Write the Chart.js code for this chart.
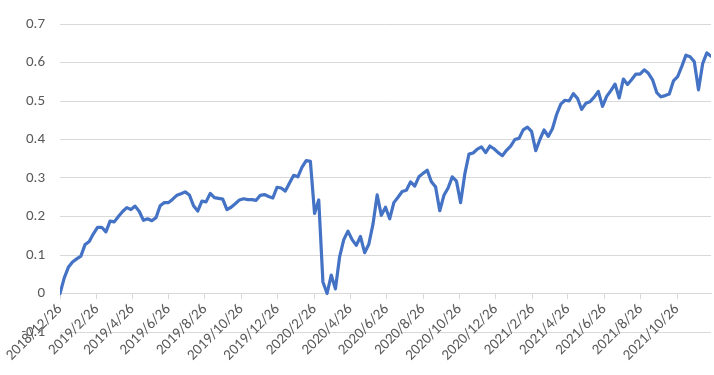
<!DOCTYPE html>
<html><head><meta charset="utf-8">
<script src="https://cdn.jsdelivr.net/npm/chart.js@4/dist/chart.umd.min.js"></script>
<style>html,body{margin:0;padding:0;background:#fff;} #wrap{width:714px;height:375px;}</style>
</head><body><div id="wrap"><canvas id="c" width="714" height="375"></canvas></div>
<script>
// weekly series starting on this date
const startDate = '2018/12/26';
const weekStepDays = 7;
const values = [
 0, 0.04, 0.068, 0.082, 0.09, 0.097, 0.127, 0.135, 0.155, 0.172,
 0.172, 0.16, 0.188, 0.186, 0.2, 0.213, 0.223, 0.218, 0.227, 0.213,
 0.19, 0.194, 0.189, 0.197, 0.228, 0.236, 0.236, 0.245, 0.255, 0.259,
 0.264, 0.256, 0.228, 0.214, 0.24, 0.238, 0.26, 0.249, 0.247, 0.245,
 0.218, 0.224, 0.233, 0.243, 0.246, 0.244, 0.244, 0.242, 0.255, 0.257,
 0.252, 0.248, 0.276, 0.274, 0.266, 0.287, 0.307, 0.303, 0.328, 0.345,
 0.343, 0.208, 0.243, 0.03, 0.0, 0.048, 0.012, 0.095, 0.14, 0.162,
 0.14, 0.125, 0.148, 0.106, 0.128, 0.18, 0.256, 0.203, 0.224, 0.194,
 0.236, 0.25, 0.265, 0.268, 0.29, 0.279, 0.303, 0.312, 0.32, 0.29,
 0.277, 0.215, 0.255, 0.274, 0.303, 0.292, 0.236, 0.31, 0.362, 0.365,
 0.375, 0.381, 0.366, 0.383, 0.376, 0.366, 0.358, 0.372, 0.383, 0.4,
 0.403, 0.425, 0.432, 0.421, 0.371, 0.4, 0.425, 0.408, 0.428, 0.465,
 0.492, 0.502, 0.5, 0.519, 0.507, 0.478, 0.494, 0.498, 0.51, 0.525,
 0.486, 0.512, 0.527, 0.544, 0.508, 0.557, 0.543, 0.556, 0.57, 0.57,
 0.581, 0.572, 0.555, 0.522, 0.511, 0.514, 0.518, 0.552, 0.563, 0.59,
 0.619, 0.615, 0.602, 0.529, 0.597, 0.625, 0.616
];
const tickLabels = [
 '2018/12/26','2019/2/26','2019/4/26','2019/6/26','2019/8/26','2019/10/26',
 '2019/12/26','2020/2/26','2020/4/26','2020/6/26','2020/8/26','2020/10/26',
 '2020/12/26','2021/2/26','2021/4/26','2021/6/26','2021/8/26','2021/10/26'
];
const yTicks = [-0.1, 0, 0.1, 0.2, 0.3, 0.4, 0.5, 0.6, 0.7];

function dayOf(s){ const p = s.split('/').map(Number); return Date.UTC(p[0], p[1]-1, p[2]) / 86400000; }
const day0 = dayOf(startDate);
const points = values.map((v, i) => ({ x: i * weekStepDays, y: v }));
const tickDays = tickLabels.map(s => dayOf(s) - day0);

const FONT = { family: 'Carlito, Lato, sans-serif', size: 15 };
const TXT = '#595959';
const GRID = '#d9d9d9';

new Chart(document.getElementById('c'), {
  type: 'line',
  data: { datasets: [{
    data: points, borderColor: '#4472C4', borderWidth: 3.2, pointRadius: 0,
    tension: 0, fill: false, borderJoinStyle: 'round', borderCapStyle: 'round'
  }]},
  options: {
    responsive: false, animation: false, devicePixelRatio: 1,
    layout: { padding: { top: 19, bottom: 43, left: 0, right: 3 } },
    plugins: { legend: { display: false }, tooltip: { enabled: false } },
    scales: {
      x: {
        type: 'linear', position: { y: 0 },
        min: 0, max: (values.length - 1) * weekStepDays,
        afterBuildTicks: s => { s.ticks = tickDays.map(v => ({ value: v })); },
        afterFit: s => { s.paddingLeft = 0; s.paddingRight = 0; },
        ticks: { autoSkip: false, minRotation: 45, maxRotation: 45, color: TXT, font: FONT, padding: 2,
          callback: (v, i) => tickLabels[i] },
        grid: { drawOnChartArea: false, drawTicks: true, tickLength: 5, color: GRID },
        border: { display: true, color: GRID }
      },
      y: {
        min: -0.1, max: 0.7,
        afterBuildTicks: s => { s.ticks = yTicks.map(v => ({ value: v })); },
        afterFit: s => { s.width = 60; },
        ticks: { color: TXT, font: FONT, padding: 15,
          callback: v => String(Math.round(v * 10) / 10) },
        grid: { color: GRID, drawTicks: false, lineWidth: 1 },
        border: { display: false }
      }
    }
  }
});
</script>
</body></html>
